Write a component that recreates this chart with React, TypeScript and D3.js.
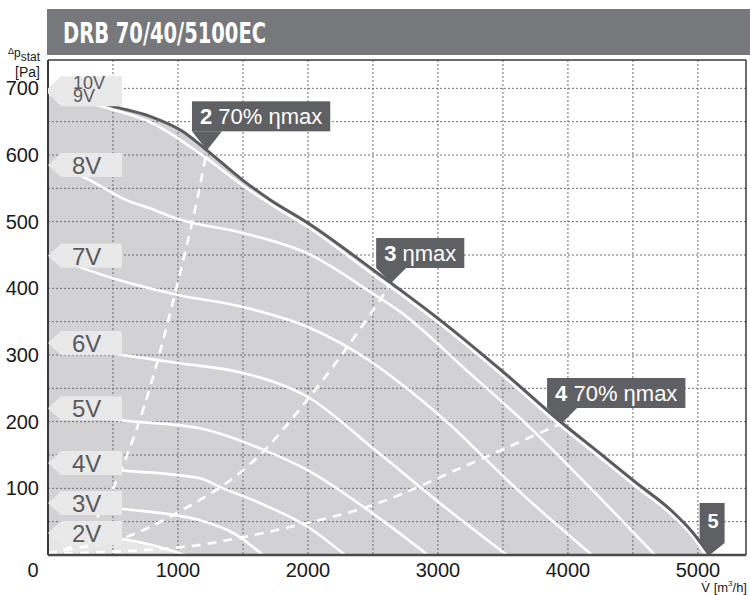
import React from "react";
import * as d3 from "d3";

// ---------- data (V̇ in m³/h, Δp in Pa) ----------
const xTickLabels = [1000, 2000, 3000, 4000, 5000];
const yTickLabels = [100, 200, 300, 400, 500, 600, 700];
const xGrid = [500, 1000, 1500, 2000, 2500, 3000, 3500, 4000, 4500, 5000];
const yGrid = [50, 100, 150, 200, 250, 300, 350, 400, 450, 500, 550, 600, 650, 700];

const curve10V = [[0, 700], [500, 673], [785, 658], [1040, 635], [1223, 607], [1500, 562], [1708, 533], [2000, 498], [2500, 428], [2708, 398], [3000, 355], [3500, 275], [3955, 198], [4250, 152], [4515, 110], [4800, 66], [4955, 35], [5090, 0]];
const curve9V = [[0, 691], [500, 668], [800, 648], [1170, 602], [1530, 550], [1708, 527], [2000, 492], [2500, 421], [2708, 392], [3000, 349], [3500, 269], [3955, 192], [4250, 146], [4515, 104], [4800, 60], [4955, 29], [5060, 0]];
const curve8V = [[0, 585], [270, 567], [607, 532], [785, 520], [1000, 504], [1500, 483], [2000, 452], [2500, 392], [2708, 365], [3215, 278], [3730, 187], [4200, 95], [4670, 0]];
const curve7V = [[0, 449], [270, 430], [500, 415], [1000, 390], [1500, 372], [2000, 342], [2500, 288], [2708, 258], [3067, 200], [3600, 100], [4185, 0]];
const curve6V = [[0, 318], [570, 300], [1000, 288], [1500, 273], [2000, 237], [2500, 160], [3000, 80], [3530, 0]];
const curve5V = [[0, 220], [570, 202], [1170, 190], [1630, 160], [2000, 127], [2500, 62], [2923, 0]];
const curve4V = [[0, 138], [570, 127], [1170, 115], [1323, 102], [1630, 78], [2000, 42], [2285, 0]];
const curve3V = [[0, 78], [570, 69], [1170, 52], [1425, 33], [1654, 0]];
const curve2V = [[0, 33], [300, 30], [570, 24], [800, 15], [1054, 0]];

const systemCurve2 = [[0, 0], [250, 25], [500, 100], [738, 222], [1000, 410], [1146, 532], [1223, 607]];
const systemCurve3 = [[0, 3], [146, 8], [570, 25], [992, 63], [1630, 150], [1992, 232], [2500, 367], [2640, 408]];
const systemCurve4 = [[0, 2], [1040, 12], [1630, 32], [1885, 43], [2500, 75], [3215, 134], [3955, 198]];

const voltageLabels = [
  { text: ["10V", "9V"], p: 700 },
  { text: ["8V"], p: 585 },
  { text: ["7V"], p: 449 },
  { text: ["6V"], p: 318 },
  { text: ["5V"], p: 220 },
  { text: ["4V"], p: 138 },
  { text: ["3V"], p: 78 },
  { text: ["2V"], p: 33 },
];

const markerIds = ["2", "3", "4", "5"];
const markerTexts = [" 70% ηmax", " ηmax", " 70% ηmax", ""];
const markerFlow = [1223, 2640, 3955, 5090];
const markerPressure = [607, 408, 198, 0];

const title = "DRB 70/40/5100EC";

// ---------- styles ----------
const FONT = "'Liberation Sans', Arial, Helvetica, sans-serif";
const C_AREA = "#d2d2d4";
const C_LIGHT = "#e6e6e7";
const C_DARK = "#5a5b5e";
const C_BOX = "#5f6063";
const C_TITLE = "#77787b";
const C_LABELBOX = "#e9e9ea";
const C_GRID = "#6c6c6e";

function measure(text: string, font: string): number {
  const c = document.createElement("canvas");
  const ctx = c.getContext("2d");
  if (!ctx) return text.length * 11;
  ctx.font = font;
  return ctx.measureText(text).width;
}

export default function App() {
  const W = 750, H = 595;
  const x = d3.scaleLinear().domain([0, 5370]).range([48, 746]);
  const y = d3.scaleLinear().domain([0, 742.5]).range([555, 60]);

  const line = d3.line<number[]>().x(d => x(d[0])).y(d => y(d[1])).curve(d3.curveMonotoneX);
  const area = d3.area<number[]>().x(d => x(d[0])).y0(y(0)).y1(d => y(d[1])).curve(d3.curveMonotoneX);

  const whiteCurves = [curve2V, curve3V, curve4V, curve5V, curve6V, curve7V, curve8V, curve9V];
  const dashed = [systemCurve2, systemCurve3, systemCurve4];

  const plotL = x(0), plotR = x(5370), plotT = y(742.5), plotB = y(0);
  const boxL = x(0), boxR = x(570);

  return (
    <svg width={W} height={H} style={{ position: "absolute", left: 0, top: 0, background: "#fff", fontFamily: FONT }}>
      <defs>
        <clipPath id="plotclip">
          <rect x={plotL} y={plotT} width={plotR - plotL} height={plotB - plotT} />
        </clipPath>
      </defs>

      {/* title bar */}
      <rect x={47} y={9} width={W - 47} height={46} fill={C_TITLE} />
      <text x={63} y={43} fill="#fff" fontSize={28} fontWeight="bold" textLength={203} lengthAdjust="spacingAndGlyphs"
        style={{ fontFamily: "'DejaVu Sans Condensed', 'DejaVu Sans', sans-serif", fontStretch: "condensed" }}>
        {title}
      </text>

      <g clipPath="url(#plotclip)">
        {/* grey working area */}
        <path d={area(curve10V) || ""} fill={C_AREA} />
        <path d={area(curve2V) || ""} fill={C_LIGHT} />

        {/* grid */}
        {xGrid.map(v => (
          <line key={"gx" + v} x1={x(v)} x2={x(v)} y1={plotT} y2={plotB} stroke={C_GRID} strokeWidth={1} strokeDasharray="2,2" />
        ))}
        {yGrid.map(v => (
          <line key={"gy" + v} x1={plotL} x2={plotR} y1={y(v)} y2={y(v)} stroke={C_GRID} strokeWidth={1} strokeDasharray="2,2" />
        ))}

        {/* voltage curves */}
        {whiteCurves.map((c, i) => (
          <path key={"wc" + i} d={line(c) || ""} fill="none" stroke="#fff" strokeWidth={2.6} />
        ))}

        {/* system curves */}
        {dashed.map((c, i) => (
          <path key={"ds" + i} d={line(c) || ""} fill="none" stroke="#fff" strokeWidth={2.6} strokeDasharray="9,7" />
        ))}

        {/* max curve outline */}
        <path d={line(curve10V) || ""} fill="none" stroke={C_DARK} strokeWidth={3} />
      </g>

      {/* frame */}
      <line x1={plotL} x2={plotR} y1={plotT} y2={plotT} stroke="#3a3a3c" strokeWidth={1.5} />
      <line x1={plotR} x2={plotR} y1={plotT} y2={plotB} stroke="#3a3a3c" strokeWidth={1.5} />
      <line x1={plotL} x2={plotL} y1={plotT} y2={plotB} stroke="#3a3a3c" strokeWidth={2} />
      <line x1={plotL} x2={plotR} y1={plotB} y2={plotB} stroke="#4a4a4c" strokeWidth={2.5} />

      {/* voltage label boxes */}
      {voltageLabels.map((lb, i) => {
        const cy = y(lb.p);
        if (lb.text.length === 2) {
          const top = cy - 12, bot = cy + 18;
          const pts = [[boxL, cy], [boxL + 13, top], [boxR, top], [boxR, bot], [boxL + 13, bot], [boxL, cy + 5]];
          return (
            <g key={"vl" + i}>
              <polygon points={pts.map(p => p.join(",")).join(" ")} fill={C_LABELBOX} />
              <text x={boxL + 25} y={cy + 1} fontSize={18} fill="#5a5a5c">{lb.text[0]}</text>
              <text x={boxL + 25} y={cy + 14} fontSize={18} fill="#5a5a5c">{lb.text[1]}</text>
            </g>
          );
        }
        const top = cy - 12, bot = cy + 12;
        const pts = [[boxL, cy], [boxL + 13, top], [boxR, top], [boxR, bot], [boxL + 13, bot]];
        return (
          <g key={"vl" + i}>
            <polygon points={pts.map(p => p.join(",")).join(" ")} fill={C_LABELBOX} />
            <text x={boxL + 24} y={cy + 9} fontSize={24} fill="#5a5a5c">{lb.text[0]}</text>
          </g>
        );
      })}

      {/* operating point markers */}
      {markerIds.map((id, i) => {
        const px = x(markerFlow[i]), py = y(markerPressure[i]);
        if (markerTexts[i] === "") {
          const bx = px - 10, bw = 25, bot = py - 12, top = bot - 40;
          return (
            <g key={"mk" + id}>
              <rect x={bx} y={top} width={bw} height={bot - top} fill={C_BOX} />
              <polygon points={`${bx},${bot} ${bx + bw},${bot} ${px},${py}`} fill={C_BOX} />
              <text x={bx + bw / 2 + 1} y={top + 25} fontSize={20} fontWeight="bold" fill="#fff" textAnchor="middle">{id}</text>
            </g>
          );
        }
        const plen = i === 0 ? 19 : 15;
        const bot = py - plen, top = bot - 30, bx = px - 15;
        const tw = measure(id, `bold 22px ${FONT}`) + measure(markerTexts[i], `22px ${FONT}`);
        const bw = tw + 16;
        return (
          <g key={"mk" + id}>
            <rect x={bx} y={top} width={bw} height={30} fill={C_BOX} />
            <polygon points={`${bx},${bot} ${bx + 30},${bot} ${px},${py}`} fill={C_BOX} />
            <text x={bx + 8} y={bot - 7} fontSize={22} fill="#fff">
              <tspan fontWeight="bold">{id}</tspan>
              <tspan>{markerTexts[i]}</tspan>
            </text>
          </g>
        );
      })}

      {/* axis tick labels */}
      {yTickLabels.map(v => (
        <text key={"yt" + v} x={39} y={y(v) + 7} fontSize={20} textAnchor="end" fill="#1a1a1a">{v}</text>
      ))}
      <text x={33} y={577} fontSize={20} textAnchor="middle" fill="#1a1a1a">0</text>
      {xTickLabels.map(v => (
        <text key={"xt" + v} x={x(v)} y={577} fontSize={20} textAnchor="middle" fill="#1a1a1a">{v}</text>
      ))}

      {/* axis titles */}
      <text x={40} y={57} fontSize={12} textAnchor="end" fill="#1a1a1a">
        <tspan fontSize={9} dy={-3}>Δ</tspan>
        <tspan fontSize={12} dy={3}>p</tspan>
        <tspan fontSize={12} dy={4}>stat</tspan>
      </text>
      <text x={40} y={77} fontSize={14} textAnchor="end" fill="#1a1a1a">[Pa]</text>
      <text x={747} y={592} fontSize={13} textAnchor="end" fill="#1a1a1a">
        <tspan>V̇ [m</tspan>
        <tspan fontSize={8} dy={-6}>3</tspan>
        <tspan dy={6}>/h]</tspan>
      </text>
    </svg>
  );
}
